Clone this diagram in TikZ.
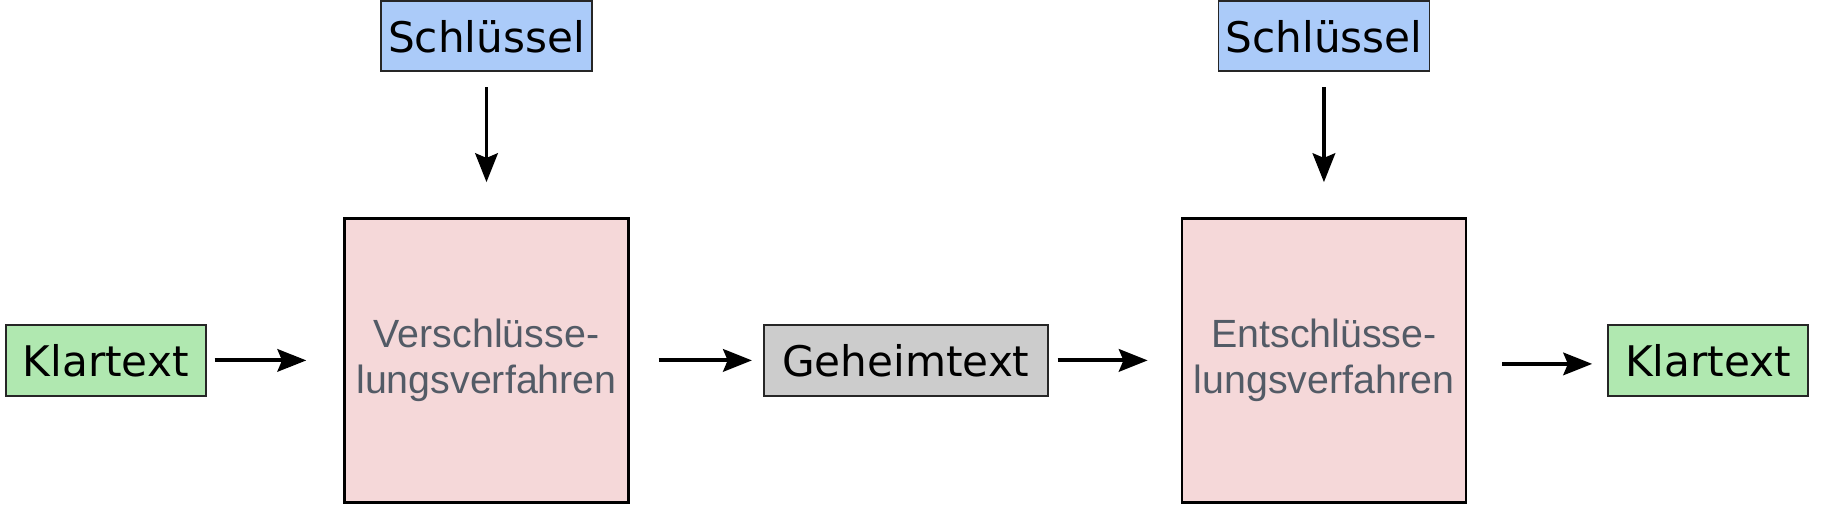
\documentclass[tikz,border=0pt]{standalone}
\usepackage{fontspec}
\setmainfont{DejaVu Sans}
\newfontfamily\procfont{Liberation Sans}
\usetikzlibrary{arrows.meta, positioning}
\usepackage{xcolor}
\definecolor{plaingreen}{HTML}{B0E8B0}
\definecolor{keyblue}{HTML}{ABCBF9}
\definecolor{ciphergray}{HTML}{CCCCCC}
\definecolor{methodpink}{HTML}{F5D8D9}
\definecolor{methodtext}{HTML}{535B66}

\begin{document}
\begin{tikzpicture}[
    >={Stealth[length=8.2pt, width=6.4pt, inset=1.3pt]},
    font=\fontsize{12}{14}\selectfont,
    base/.style={draw, align=center, inner sep=0pt},
    textbox/.style={base, line width=0.5pt, draw=black!85, minimum height=0.71cm},
    plain/.style={textbox, fill=plaingreen, minimum width=2.0cm},
    key/.style={textbox, fill=keyblue, minimum width=2.11cm, minimum height=0.70cm},
    cipher/.style={textbox, fill=ciphergray, minimum width=2.84cm},
    method/.style={base, line width=0.7pt, fill=methodpink, minimum width=2.84cm, minimum height=2.84cm, text=methodtext, font=\procfont\fontsize{11.2}{13.3}\selectfont},
    arrow/.style={->, line width=1.1pt}
  ]
    \useasboundingbox (0,0) rectangle (18.32,5.19);
    \node[plain] (klar1) at (1.057,1.586) {Klartext};
    \node[method, right=1.367cm of klar1] (encrypt) {Verschlüsse-\\lungsverfahren};
    \node[cipher, right=1.332cm of encrypt] (cipher) {Geheimtext};
    \node[method, right=1.32cm of cipher] (decrypt) {Entschlüsse-\\lungsverfahren};
    \node[plain, right=1.40cm of decrypt] (klar2) {Klartext};
    \node[key, above=1.45cm of encrypt] (key1) {Schlüssel};
    \node[key, above=1.45cm of decrypt] (key2) {Schlüssel};
    \draw[arrow, shorten <=0.08cm, shorten >=0.37cm] (klar1) -- (encrypt);
    \draw[arrow, shorten <=0.29cm, shorten >=0.11cm] (encrypt) -- (cipher);
    \draw[arrow, shorten <=0.09cm, shorten >=0.33cm] (cipher) -- (decrypt);
    \draw[arrow, shorten <=0.35cm, shorten >=0.15cm] ([yshift=-0.35mm]decrypt.east) -- ([yshift=-0.35mm]klar2.west);
    \draw[arrow, shorten <=0.15cm, shorten >=0.35cm] (key1) -- (encrypt);
    \draw[arrow, shorten <=0.15cm, shorten >=0.35cm] (key2) -- (decrypt);
\end{tikzpicture}
\end{document}
